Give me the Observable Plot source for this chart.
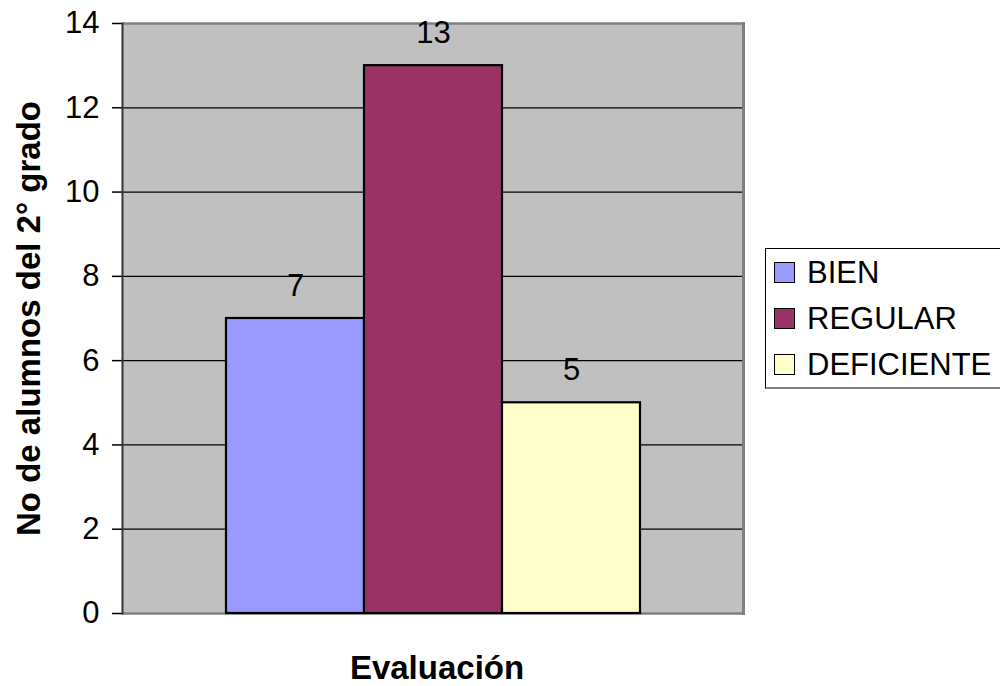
<!DOCTYPE html>
<html>
<head>
<meta charset="utf-8">
<script src="https://cdn.jsdelivr.net/npm/d3@7"></script>
<script src="https://cdn.jsdelivr.net/npm/@observablehq/plot@0.6"></script>
<style>
  html, body { margin: 0; padding: 0; background: #fff; }
  #wrap { position: relative; width: 1000px; height: 686px; overflow: hidden; font-family: "Liberation Sans", Arial, sans-serif; }
  #legend { position: absolute; left: 765px; top: 248px; width: 260px; height: 141px; border: 1px solid #000; border-bottom: 2px solid #808080; background: #fff; box-sizing: border-box; }
  .item { position: absolute; left: 0; height: 31px; font-size: 31px; line-height: 31px; white-space: nowrap; }
  .sw { position: absolute; width: 19px; height: 19px; border: 1.5px solid #000; left: 8px; box-sizing: content-box; }
  .lbl { position: absolute; left: 41px; top: 0; }
</style>
</head>
<body>
<div id="wrap"></div>
<script>
const categories = ["BIEN", "REGULAR", "DEFICIENTE"];
const values = [7, 13, 5];
const colors = ["#9999FF", "#993366", "#FFFFCC"];
const yTicks = [0, 2, 4, 6, 8, 10, 12, 14];
const yTitle = "No de alumnos del 2° grado";
const xTitle = "Evaluación";

const data = categories.map((c, i) => ({category: c, value: values[i]}));

const chart = Plot.plot({
  width: 1000,
  height: 686,
  marginLeft: 122,
  marginRight: 257,
  marginTop: 23,
  marginBottom: 73,
  style: {fontFamily: "'Liberation Sans', Arial, sans-serif", fontSize: "31px", color: "#000", background: "transparent"},
  x: {domain: categories, paddingInner: 0, paddingOuter: 0.75, axis: null},
  y: {domain: [0, 14], axis: null},
  color: {domain: categories, range: colors},
  marks: [
    Plot.frame({fill: "#C0C0C0", stroke: null}),
    Plot.ruleY(yTicks.filter(d => d > 0 && d < 14), {stroke: "#000", strokeWidth: 1.2}),
    Plot.ruleY([14], {stroke: "#808080", strokeWidth: 2.5}),
    Plot.ruleY([0], {stroke: "#808080", strokeWidth: 2.5}),
    Plot.frame({anchor: "right", stroke: "#808080", strokeWidth: 3}),
    Plot.barY(data, {x: "category", y: "value", fill: "category", stroke: "#000", strokeWidth: 2.2}),
    Plot.text(data, {x: "category", y: "value", text: d => String(d.value), lineAnchor: "bottom", dy: -23, fontSize: 31}),
    Plot.axisY({ticks: yTicks, tickSize: 10, tickPadding: 13, fontSize: 31, stroke: "#000", strokeWidth: 1.5, label: null}),
    Plot.frame({anchor: "left", stroke: "#333", strokeWidth: 2}),
    Plot.text([yTitle], {frameAnchor: "left", rotate: -90, dx: -93, fontWeight: "bold", fontSize: 33, textAnchor: "middle", lineAnchor: "middle"}),
    Plot.text([xTitle], {frameAnchor: "bottom", dy: 55, dx: 4, fontWeight: "bold", fontSize: 33, textAnchor: "middle", lineAnchor: "middle"})
  ]
});

const wrap = document.getElementById("wrap");
wrap.appendChild(chart);

const legend = document.createElement("div");
legend.id = "legend";
categories.forEach((c, i) => {
  const it = document.createElement("div");
  it.className = "item";
  it.style.top = (8 + i * 46) + "px";
  const sw = document.createElement("span");
  sw.className = "sw";
  sw.style.background = colors[i];
  sw.style.top = "5px";
  const t = document.createElement("span");
  t.className = "lbl";
  t.textContent = c;
  it.appendChild(sw);
  it.appendChild(t);
  legend.appendChild(it);
});
wrap.appendChild(legend);
</script>
</body>
</html>
